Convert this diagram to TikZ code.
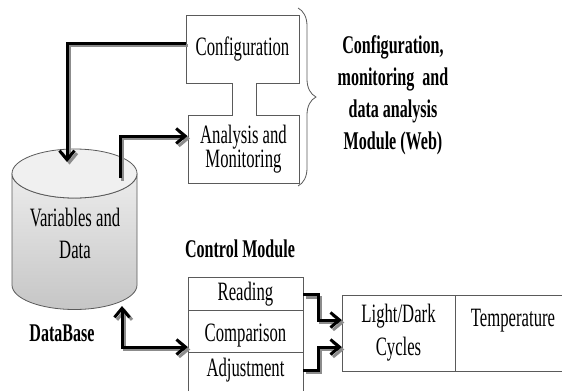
\documentclass[tikz,border=0pt]{standalone}
\usepackage{fontspec}
\setmainfont{Liberation Serif}[FakeStretch=0.63]
\usetikzlibrary{arrows.meta,decorations.pathreplacing}

\definecolor{edge}{HTML}{5A5A5A}
\definecolor{shade}{HTML}{8C8C8C}

\tikzstyle{block}=[draw=edge,line width=1pt,fill=white,rectangle,inner sep=0pt,font=\fontsize{26.5}{23}\selectfont,align=center]
\tikzstyle{cell}=[rectangle,inner sep=0pt,font=\fontsize{26.5}{33}\selectfont,align=center]
\tikzstyle{title}=[inner sep=0pt,font=\bfseries\fontsize{25.5}{32}\selectfont,align=center]
\tikzstyle{link}=[line width=3pt,preaction={draw=shade,line width=3pt,transform canvas={shift={(2.5pt,-2.5pt)}}}]

\begin{document}
\begin{tikzpicture}[x=1pt,y=-1pt]
	\useasboundingbox (0,0) rectangle (562,391);
	\begin{scope}[>={Straight Barb[length=9pt,width=15pt]}]
		% web module
		\node (cfg)[block,minimum width=113pt,minimum height=68pt] at (242.5,49) {Configuration};
		\node (ana)[block,minimum width=111pt,minimum height=68pt] at (243.5,149) {Analysis and\\Monitoring};
		\fill[white] (232.5,82) rectangle (255.5,116);
		\draw[edge,line width=1pt] (232,83) -- (232,115) (256,83) -- (256,115);
		\draw[edge,line width=0.8pt,decorate,decoration={brace,amplitude=18pt}] (298,8) -- (298,186);
		\node (web)[title] at (393,95) {Configuration,\\monitoring\ \ and\\data analysis\\Module (Web)};

		% database
		\shade[top color=gray!15,bottom color=gray!45,draw=edge,line width=0.8pt] (12,173.5) -- (12,285)
			arc[start angle=180,end angle=360,x radius=62.5pt,y radius=24.5pt] -- (137,173.5)
			arc[start angle=0,end angle=-180,x radius=62.5pt,y radius=24.5pt] -- cycle;
		\draw[edge,line width=0.8pt,fill=gray!12] (74.5,173.5) ellipse [x radius=62.5pt,y radius=24.5pt];
		\node (db)[cell,font=\fontsize{26.5}{32}\selectfont] at (75,233) {Variables and\\Data};
		\node (dblabel)[title] at (62,333) {DataBase};
		\coordinate (dbin) at (67,162);
		\coordinate (dbout) at (120,178);
		\coordinate (dblow) at (122,306);

		% control module
		\node (ctl)[title] at (240,249) {Control Module};
		\draw[edge,line width=1pt] (188,391) |- (303,277) -- (303,391);
		\draw[edge,line width=1pt] (188,310) -- (303,310) (188,352) -- (303,352);
		\foreach \nm/\txt/\y in {rd/Reading/294.5, cmp/Comparison/335.5, adj/Adjustment/370}{
			\node (\nm)[cell,minimum width=115pt] at (245.5,\y) {\txt};
		}

		% variables
		\draw[edge,line width=1pt] (562,295) -| (342,371) -- (562,371);
		\draw[edge,line width=1pt] (455,295) -- (455,371);
		\node (lt)[cell,minimum width=113pt,minimum height=76pt] at (398.5,333) {Light/Dark\\Cycles};
		\node (tmp)[cell] at (513,321) {Temperature};

		\draw[link,->] ([yshift=6pt]cfg.west) -| (dbin);
		\draw[link,->] (dbout) |- ([yshift=13pt]ana.west);
		\draw[link,<->] (dblow) |- ([yshift=-11.5pt]cmp.west);
		\draw[link,->] (rd.east) -- ++(15,0) |- ([yshift=13pt]lt.west);
		\draw[link,->] (adj.east) -- ++(15,0) |- ([yshift=-14pt]lt.west);
	\end{scope}
\end{tikzpicture}
\end{document}
